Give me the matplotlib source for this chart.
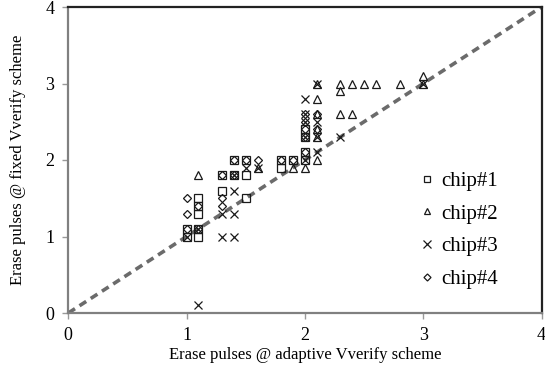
import matplotlib
matplotlib.use("Agg")
import matplotlib.pyplot as plt

plt.rcParams['font.family'] = ['Liberation Serif', 'DejaVu Serif']

chip1_x = [1.0, 1.0, 1.1, 1.1, 1.1, 1.1, 1.1, 1.3, 1.3, 1.4, 1.4, 1.5, 1.5, 1.5, 1.8, 1.8, 1.9, 2.0, 2.0, 2.0, 2.0]
chip1_y = [1.0, 1.1, 1.0, 1.1, 1.3, 1.4, 1.5, 1.6, 1.8, 1.8, 2.0, 1.8, 1.5, 2.0, 1.9, 2.0, 2.0, 2.0, 2.1, 2.3, 2.4]

chip2_x = [1.1, 1.6, 1.9, 2.0, 2.1, 2.1, 2.1, 2.1, 2.1, 2.1, 2.3, 2.3, 2.3, 2.4, 2.4, 2.5, 2.6, 2.8, 3.0, 3.0]
chip2_y = [1.8, 1.9, 1.9, 1.9, 2.0, 2.3, 2.4, 2.6, 2.8, 3.0, 3.0, 2.9, 2.6, 2.6, 3.0, 3.0, 3.0, 3.0, 3.1, 3.0]

chip3_x = [1.1, 1.3, 1.4, 1.3, 1.4, 1.4, 1.4, 1.5, 1.6, 2.0, 2.0, 2.0, 2.0, 2.1, 2.1, 2.1, 2.1, 2.3, 3.0, 1.0, 1.1, 2.0]
chip3_y = [0.1, 1.0, 1.0, 1.3, 1.3, 1.6, 1.8, 1.9, 1.9, 2.8, 2.6, 2.5, 2.3, 3.0, 2.5, 2.3, 2.1, 2.3, 3.0, 1.0, 1.1, 2.0]

chip4_x = [1.0, 1.0, 1.0, 1.1, 1.1, 1.3, 1.3, 1.3, 1.4, 1.5, 1.6, 1.8, 1.9, 2.0, 2.0, 2.0, 2.0, 2.0, 2.1, 2.1, 1.4]
chip4_y = [1.5, 1.3, 1.1, 1.4, 1.1, 1.5, 1.4, 1.8, 2.0, 2.0, 2.0, 2.0, 2.0, 2.6, 2.5, 2.4, 2.3, 2.1, 2.6, 2.4, 1.8]

series = [
    ("chip#1", chip1_x, chip1_y, "s"),
    ("chip#2", chip2_x, chip2_y, "^"),
    ("chip#3", chip3_x, chip3_y, "x"),
    ("chip#4", chip4_x, chip4_y, "D"),
]

ticks = [0, 1, 2, 3, 4]

fig = plt.figure(figsize=(5.45, 3.74), dpi=100)
ax = fig.add_axes([68.3 / 545, 1 - 313 / 374, (541.5 - 68.3) / 545, (313 - 7) / 374])

ax.plot([0, 4], [0, 4], linestyle=(0, (2.2, 1.5)), color="#6b6b6b", linewidth=2.6, zorder=1)

for name, xs, ys, m in series:
    ms = 4.2 if m == "D" else 5.2
    if m == "x":
        ax.plot(xs, ys, linestyle="none", marker=m, markersize=6, color="#1a1a1a",
                markeredgewidth=0.9, label=name, zorder=3)
    else:
        ax.plot(xs, ys, linestyle="none", marker=m, markersize=ms, markerfacecolor="none",
                markeredgecolor="#1a1a1a", markeredgewidth=0.9, label=name, zorder=3)

ax.set_xlim(0, 4)
ax.set_ylim(0, 4)
ax.set_xticks(ticks)
ax.set_yticks(ticks)
ax.tick_params(direction="out", length=4, width=1, color="#999999", labelsize=13, pad=6)

for s in ["left", "bottom"]:
    ax.spines[s].set_color("#808080")
    ax.spines[s].set_linewidth(1.6)
for s in ["top", "right"]:
    ax.spines[s].set_color("#222222")
    ax.spines[s].set_linewidth(1.6)

ax.set_xlabel("Erase pulses @ adaptive Vverify scheme", fontsize=12, labelpad=2)
ax.set_ylabel("Erase pulses @ fixed Vverify scheme", fontsize=12, labelpad=14)

leg = ax.legend(loc="lower right", bbox_to_anchor=(0.948, 0.017), frameon=False, fontsize=15,
                handlelength=0.6, handletextpad=0.4, labelspacing=0.63, markerscale=0.85)

fig.savefig("out.png", dpi=100)
